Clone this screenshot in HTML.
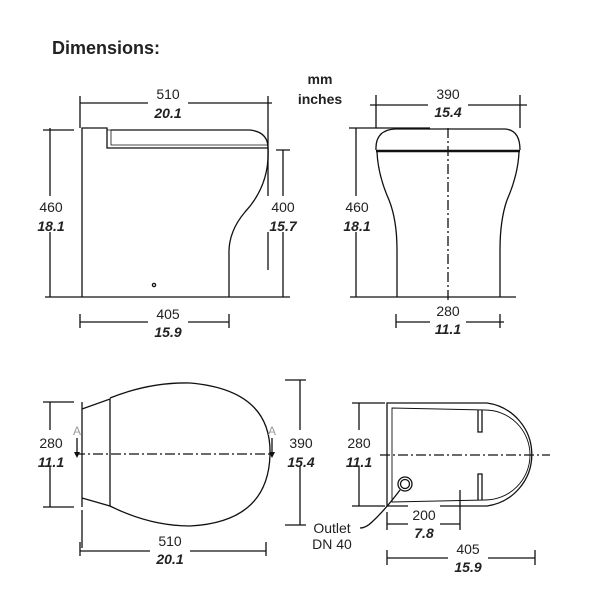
<!DOCTYPE html>
<html><head><style>
body{margin:0;background:#fff}
svg text{font-family:"Liberation Sans",sans-serif;font-size:14px;fill:#222;text-anchor:middle}
.b{font-weight:bold;font-style:italic}
</style></head><body>
<svg width="600" height="600" viewBox="0 0 600 600" xmlns="http://www.w3.org/2000/svg">
<g stroke="#111" fill="none" stroke-width="1.3">
<!-- side view -->
<path d="M82 297 V128 H107 V148 H268"/>
<path d="M111 130 H250 Q268 132 268 148 Q270 185 245 212 Q228 232 229 255 V297"/>
<path d="M107 130 H111 V145 H268" stroke-width="0.8"/>
<path d="M45 297 H290"/>
<path d="M80 103 H272 M80 96 V128 M268 96 V270 M50 128 V297 M43 130 H74 M283 150 V297 M276 150 H290 M80 322 H229 M80 314 V328 M229 314 V328"/>
<circle cx="154" cy="285" r="1.6"/>
<!-- front view -->
<path d="M376 150 Q375 130 395 129 H505 Q520 130 520 150"/>
<path d="M376 151 H520" stroke-width="2.5"/>
<path d="M377 152 Q378 175 389 200 Q397 220 397 250 V297 M519 152 Q518 175 507 200 Q500 220 500 250 V297"/>
<path d="M350 297 H516"/>
<path d="M448 128 V300" stroke-dasharray="10 3 2 3"/>
<path d="M370 105 H527 M376 95 V128 M520 95 V128 M356 128 V297 M349 128 H430 M396 322 H504 M396 314 V328 M500 314 V328"/>
<!-- top view left -->
<path d="M82 402 V507 M82 409 L110 399 V506 L82 498"/>
<path d="M110 398 Q150 382 190 383 Q272 390 270 455 Q268 522 190 526 Q150 526 110 506"/>
<path d="M75 454 H272" stroke-dasharray="10 3 2 3"/>
<path d="M77 438 V452 M272 438 V452"/>
<path d="M50 402 V507 M43 402 H74 M43 507 H74 M300 380 V525 M285 380 H306 M285 525 H306 M80 551 H266 M80 542 V556 M266 542 V556 M82 510 V548"/>
<!-- top view right -->
<path d="M387 403 H487 A52 52 0 0 1 487 506 H387 Z"/>
<path d="M392 408 L485 410 A45 45 0 0 1 485 500 L392 502 Z" stroke-width="0.9"/>
<path d="M478 410 V432 H482 V410 M478 500 V474 H482 V500"/>
<circle cx="405" cy="484" r="7"/><circle cx="405" cy="484" r="4.5"/>
<path d="M380 455 H550" stroke-dasharray="10 3 2 3"/>
<path d="M359 403 V506 M352 403 H385 M352 506 H385 M387 524 H460 M387 512 V530 M460 490 V530 M387 558 H535 M387 550 V565 M535 550 V565"/>
<path d="M400 490 Q385 510 372 522 Q366 528 360 528"/>
</g>
<g fill="#111">
<path d="M74 452 L77 458 L80 452Z M269 452 L272 458 L275 452Z"/>
</g>
<text x="52" y="54" style="font-size:18px;font-weight:bold;text-anchor:start">Dimensions:</text>
<text x="320" y="84" style="font-weight:bold">mm</text>
<text x="320" y="104" style="font-weight:bold">inches</text>
<g stroke="#fff" stroke-width="0"><rect x="148" y="84" width="40" height="36" fill="#fff"/><rect x="34" y="196" width="34" height="36" fill="#fff"/><rect x="266" y="196" width="34" height="36" fill="#fff"/><rect x="148" y="305" width="40" height="34" fill="#fff"/><rect x="428" y="84" width="40" height="32" fill="#fff"/><rect x="340" y="196" width="34" height="36" fill="#fff"/><rect x="430" y="303" width="36" height="32" fill="#fff"/><rect x="34" y="430" width="34" height="36" fill="#fff"/><rect x="284" y="430" width="34" height="36" fill="#fff"/><rect x="150" y="530" width="40" height="34" fill="#fff"/><rect x="342" y="430" width="34" height="36" fill="#fff"/><rect x="408" y="505" width="32" height="34" fill="#fff"/><rect x="448" y="540" width="40" height="34" fill="#fff"/></g>
<text x="168" y="99">510</text><text x="168" y="118" class="b">20.1</text>
<text x="51" y="212">460</text><text x="51" y="231" class="b">18.1</text>
<text x="283" y="212">400</text><text x="283" y="231" class="b">15.7</text>
<text x="168" y="319">405</text><text x="168" y="337" class="b">15.9</text>
<text x="448" y="99">390</text><text x="448" y="117" class="b">15.4</text>
<text x="357" y="212">460</text><text x="357" y="231" class="b">18.1</text>
<text x="448" y="316">280</text><text x="448" y="334" class="b">11.1</text>
<text x="51" y="448">280</text><text x="51" y="467" class="b">11.1</text>
<text x="77" y="435" style="fill:#999;font-size:12px">A</text><text x="272" y="435" style="fill:#999;font-size:12px">A</text>
<text x="301" y="448">390</text><text x="301" y="467" class="b">15.4</text>
<text x="170" y="546">510</text><text x="170" y="564" class="b">20.1</text>
<text x="359" y="448">280</text><text x="359" y="467" class="b">11.1</text>
<text x="424" y="520">200</text><text x="424" y="538" class="b">7.8</text>
<text x="468" y="554">405</text><text x="468" y="572" class="b">15.9</text>
<text x="332" y="533">Outlet</text><text x="332" y="549">DN 40</text>
</svg>
</body></html>
